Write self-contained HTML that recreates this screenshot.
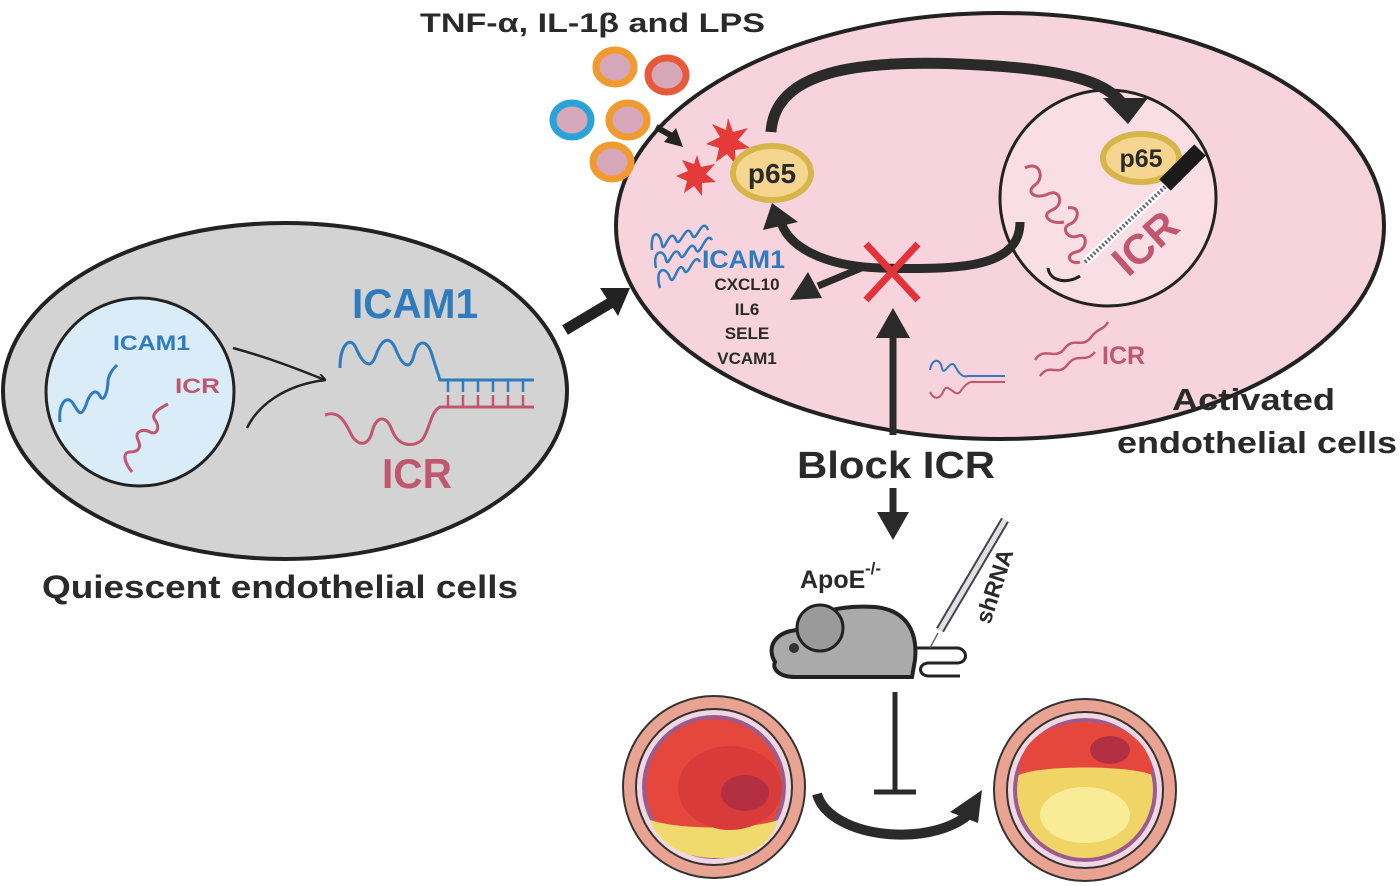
<!DOCTYPE html>
<html><head><meta charset="utf-8"><style>
html,body{margin:0;padding:0;background:#fff}
svg{display:block}
text{font-family:"Liberation Sans",Arial,sans-serif;font-weight:bold}
</style></head><body>
<svg width="1400" height="886" viewBox="0 0 1400 886" xmlns="http://www.w3.org/2000/svg">
<defs>
<marker id="ao" markerWidth="8" markerHeight="8" refX="7" refY="4" orient="auto" markerUnits="userSpaceOnUse"><path d="M0,0 L8,4 L0,8" fill="none" stroke="#222" stroke-width="2"/></marker>
</defs>

<!-- Quiescent cell -->
<ellipse cx="285" cy="391" rx="282" ry="168" fill="#d3d3d3" stroke="#222" stroke-width="4"/>
<circle cx="140" cy="392" r="94" fill="#d9ecf7" stroke="#222" stroke-width="3"/>
<text x="113" y="350" font-size="21" fill="#2f7bbd" textLength="77" lengthAdjust="spacingAndGlyphs">ICAM1</text>
<text x="175" y="393" font-size="21" fill="#c1566f" textLength="45" lengthAdjust="spacingAndGlyphs">ICR</text>
<path d="M60,422 C58,405 66,395 72,402 C78,410 80,420 86,405 C90,392 96,388 100,396 C104,404 108,390 108,380 C110,372 114,368 117,365" fill="none" stroke="#2f7bbd" stroke-width="3"/>
<path d="M132,472 C124,462 122,452 130,452 C138,452 142,448 138,440 C134,432 142,428 150,432 C158,436 160,426 155,420 C150,414 160,408 168,404" fill="none" stroke="#c1566f" stroke-width="3"/>
<path d="M233,348 C270,358 300,370 325,380" fill="none" stroke="#222" stroke-width="2.5" marker-end="url(#ao)"/>
<path d="M247,428 C258,405 285,385 325,380" fill="none" stroke="#222" stroke-width="2.5"/>
<text x="352" y="318" font-size="42" fill="#2f7bbd" textLength="126" lengthAdjust="spacingAndGlyphs">ICAM1</text>
<path d="M340,368 C340,345 350,335 356,348 C362,362 370,372 376,355 C382,338 390,335 396,350 C402,365 410,372 414,355 C418,338 428,340 432,355 L440,380 L534,380" fill="none" stroke="#2f7bbd" stroke-width="3"/>
<path d="M325,415 C338,410 344,420 350,432 C356,446 368,448 372,432 C376,416 386,414 392,430 C398,446 412,448 422,440 C430,430 430,412 440,407 L534,407" fill="none" stroke="#c1566f" stroke-width="3"/>
<g stroke="#2f7bbd" stroke-width="2.5"><line x1="448" y1="380" x2="448" y2="392"/><line x1="463" y1="380" x2="463" y2="392"/><line x1="478" y1="380" x2="478" y2="392"/><line x1="493" y1="380" x2="493" y2="392"/><line x1="508" y1="380" x2="508" y2="392"/><line x1="523" y1="380" x2="523" y2="392"/></g>
<g stroke="#c1566f" stroke-width="2.5"><line x1="448" y1="395" x2="448" y2="407"/><line x1="463" y1="395" x2="463" y2="407"/><line x1="478" y1="395" x2="478" y2="407"/><line x1="493" y1="395" x2="493" y2="407"/><line x1="508" y1="395" x2="508" y2="407"/><line x1="523" y1="395" x2="523" y2="407"/></g>
<text x="382" y="488" font-size="42" fill="#c1566f" textLength="70" lengthAdjust="spacingAndGlyphs">ICR</text>
<text x="42" y="598" font-size="32" fill="#2a2a2a" textLength="476" lengthAdjust="spacingAndGlyphs">Quiescent endothelial cells</text>
<line x1="565" y1="330" x2="612" y2="302" stroke="#222" stroke-width="11"/>
<path d="M600,288 L630,288 L618,316 z" fill="#222"/>

<!-- Activated cell -->
<ellipse cx="1000" cy="226" rx="384" ry="213" fill="#f7d4dd" stroke="#222" stroke-width="4"/>
<circle cx="1108" cy="198" r="108" fill="#f9dee5" stroke="#222" stroke-width="3"/>
<text x="420" y="32" font-size="27" fill="#2a2a2a" textLength="345" lengthAdjust="spacingAndGlyphs">TNF-α, IL-1β and LPS</text>
<g stroke-width="7" fill="#d6a7b8">
<ellipse cx="615" cy="67" rx="19" ry="17" stroke="#f19a2e"/>
<ellipse cx="667" cy="75" rx="19" ry="17" stroke="#e8583a"/>
<ellipse cx="572" cy="120" rx="19" ry="17" stroke="#2aa3d8"/>
<ellipse cx="628" cy="120" rx="19" ry="17" stroke="#f19a2e"/>
<ellipse cx="612" cy="162" rx="19" ry="17" stroke="#f19a2e"/>
</g>
<path d="M656,127 L672,136" stroke="#222" stroke-width="6"/>
<path d="M664,142 L683,147 L676,128 z" fill="#222"/>
<g fill="#e43a3a"><polygon points="728,118 733,132 748,128 738,140 750,148 735,150 736,165 727,154 716,162 719,148 706,144 720,137 712,124 726,130"/>
<polygon points="697,155 701,167 715,164 706,174 716,182 702,183 702,196 694,186 684,193 687,181 676,176 688,171 682,160 694,164"/></g>
<ellipse cx="772" cy="173" rx="39" ry="27" fill="#f6d590" stroke="#d6b648" stroke-width="6"/>
<text x="772" y="183" font-size="28" fill="#2a2a2a" text-anchor="middle">p65</text>
<path d="M771,132 C775,70 860,60 960,64 C1060,68 1110,80 1125,108" fill="none" stroke="#2a2a2a" stroke-width="11"/>
<path d="M1103,98 L1148,98 L1128,124 z" fill="#2a2a2a"/>
<path d="M1020,222 C1020,268 960,270 880,268 C820,266 790,245 782,225" fill="none" stroke="#2a2a2a" stroke-width="9"/>
<path d="M763,230 L772,203 L798,222 z" fill="#2a2a2a"/>
<path d="M866,266 L818,286" stroke="#2a2a2a" stroke-width="7"/>
<path d="M790,300 L808,272 L822,298 z" fill="#2a2a2a"/>
<path d="M866,244 L918,300 M918,244 L866,300" stroke="#e3333a" stroke-width="7"/>
<g fill="none" stroke="#2f7bbd" stroke-width="2.5">
<path d="M652,250 C650,230 660,230 662,245 C664,255 670,225 676,240 C680,250 686,220 692,235 C696,245 702,215 708,230"/>
<path d="M656,268 C652,250 664,248 666,260 C668,270 674,242 680,255 C684,265 690,235 696,250 C700,258 706,230 712,240"/>
<path d="M660,288 C654,268 666,265 670,278 C674,288 678,258 684,270 C688,280 694,250 700,262"/>
</g>
<text x="702" y="268" font-size="25" fill="#2f7bbd" textLength="83" lengthAdjust="spacingAndGlyphs">ICAM1</text>
<g font-size="17" fill="#2a2a2a" text-anchor="middle">
<text x="747" y="290">CXCL10</text><text x="747" y="315">IL6</text><text x="747" y="339">SELE</text><text x="747" y="364">VCAM1</text></g>
<path d="M1025,168 C1040,160 1045,178 1035,185 C1025,192 1035,200 1048,194 C1060,188 1065,205 1052,210 C1040,215 1050,225 1064,222" fill="none" stroke="#c1566f" stroke-width="3"/>
<path d="M1068,208 C1080,205 1080,220 1070,224 C1060,228 1068,240 1078,236 C1088,232 1088,250 1076,252 C1064,255 1070,265 1080,262" fill="none" stroke="#c1566f" stroke-width="3"/>
<path d="M1048,268 C1050,282 1068,284 1080,276" fill="none" stroke="#222" stroke-width="3"/>
<ellipse cx="1141" cy="158" rx="38" ry="24" fill="#f6d590" stroke="#d6b648" stroke-width="6"/>
<text x="1141" y="167" font-size="25" fill="#2a2a2a" text-anchor="middle">p65</text>
<line x1="1165" y1="185" x2="1200" y2="150" stroke="#1a1a1a" stroke-width="16"/>
<line x1="1085" y1="262" x2="1165" y2="187" stroke="#fff" stroke-width="8"/>
<line x1="1085" y1="262" x2="1165" y2="187" stroke="#667" stroke-width="4" stroke-dasharray="2 2"/>
<text x="0" y="0" font-size="42" fill="#c1566f" transform="translate(1128,278) rotate(-42)">ICR</text>
<path d="M930,370 C932,358 940,358 942,368 C944,378 950,358 955,366 C958,372 962,378 968,376 L1005,376" fill="none" stroke="#2f7bbd" stroke-width="2"/>
<path d="M930,392 C934,400 940,400 944,390 C948,382 955,398 960,392 C964,386 968,382 972,382 L1005,382" fill="none" stroke="#c1566f" stroke-width="2"/>
<path d="M1035,360 C1045,345 1055,362 1065,348 C1075,336 1082,350 1092,336 C1098,328 1104,330 1108,322" fill="none" stroke="#c1566f" stroke-width="2.5"/>
<path d="M1040,376 C1050,362 1058,378 1068,364 C1078,352 1085,364 1095,352" fill="none" stroke="#c1566f" stroke-width="2.5"/>
<text x="1102" y="364" font-size="25" fill="#c1566f">ICR</text>
<text x="1172" y="410" font-size="31" fill="#2a2a2a" textLength="163" lengthAdjust="spacingAndGlyphs">Activated</text>
<text x="1117" y="453" font-size="31" fill="#2a2a2a" textLength="280" lengthAdjust="spacingAndGlyphs">endothelial cells</text>

<line x1="893" y1="330" x2="893" y2="435" stroke="#2a2a2a" stroke-width="7"/>
<path d="M876,338 L893,308 L910,338 z" fill="#2a2a2a"/>
<text x="797" y="478" font-size="38" fill="#2a2a2a" textLength="198" lengthAdjust="spacingAndGlyphs">Block ICR</text>
<line x1="893" y1="488" x2="893" y2="515" stroke="#2a2a2a" stroke-width="7"/>
<path d="M877,512 L909,512 L893,540 z" fill="#2a2a2a"/>
<text x="800" y="588" font-size="25" fill="#2a2a2a">ApoE</text>
<text x="865" y="574" font-size="17" fill="#2a2a2a">-/-</text>
<path d="M775,662 C765,645 778,630 800,630 C810,612 840,605 875,607 C905,610 918,630 915,660 L912,677 L795,677 C778,677 772,668 775,662 z" fill="#aaa" stroke="#222" stroke-width="4"/>
<circle cx="820" cy="628" r="23" fill="#9a9a9a" stroke="#222" stroke-width="3"/>
<circle cx="794" cy="648" r="5" fill="#333"/>
<path d="M914,648 L958,648 C968,650 968,662 958,663 L928,663 C918,664 918,675 928,676 L960,676" fill="none" stroke="#222" stroke-width="3"/>
<line x1="940" y1="630" x2="1005" y2="520" stroke="#444" stroke-width="9"/>
<line x1="940" y1="630" x2="1005" y2="520" stroke="#e0e0e6" stroke-width="5"/>
<line x1="938" y1="633" x2="930" y2="648" stroke="#666" stroke-width="1.5"/>
<text x="0" y="0" font-size="23" fill="#2a2a2a" transform="translate(990,625) rotate(-72)">shRNA</text>
<line x1="895" y1="692" x2="895" y2="792" stroke="#2a2a2a" stroke-width="5"/>
<line x1="874" y1="792" x2="916" y2="792" stroke="#2a2a2a" stroke-width="5"/>
<path d="M817,794 C830,840 940,850 975,808" fill="none" stroke="#2a2a2a" stroke-width="10"/>
<path d="M950,812 L982,790 L978,823 z" fill="#2a2a2a"/>
<g>
<circle cx="714" cy="787" r="91" fill="#e9a392" stroke="#333" stroke-width="2"/>
<circle cx="714" cy="787" r="78" fill="#f0d7e2" stroke="#333" stroke-width="2"/>
<circle cx="714" cy="787" r="72" fill="#9a5b8f"/>
<circle cx="714" cy="787" r="68" fill="#e6473c"/>
<path d="M650,820 C680,830 750,830 778,820 C770,850 740,860 714,858 C690,858 660,848 650,820 z" fill="#f1da6d"/>
<ellipse cx="730" cy="788" rx="52" ry="42" fill="#d93a3a"/>
<ellipse cx="745" cy="793" rx="24" ry="18" fill="#b33043"/>
</g>
<g>
<circle cx="1085" cy="790" r="91" fill="#e9a392" stroke="#333" stroke-width="2"/>
<circle cx="1085" cy="790" r="78" fill="#f0d7e2" stroke="#333" stroke-width="2"/>
<circle cx="1085" cy="790" r="72" fill="#9a5b8f"/>
<circle cx="1085" cy="790" r="68" fill="#f1d466"/>
<path d="M1019,775 C1018,740 1050,722 1085,722 C1120,722 1152,740 1152,775 C1130,765 1040,765 1019,775 z" fill="#e6473c"/>
<ellipse cx="1110" cy="750" rx="20" ry="14" fill="#b33043"/>
<ellipse cx="1085" cy="815" rx="45" ry="28" fill="#f8ec96"/>
</g>
</svg>
</body></html>
